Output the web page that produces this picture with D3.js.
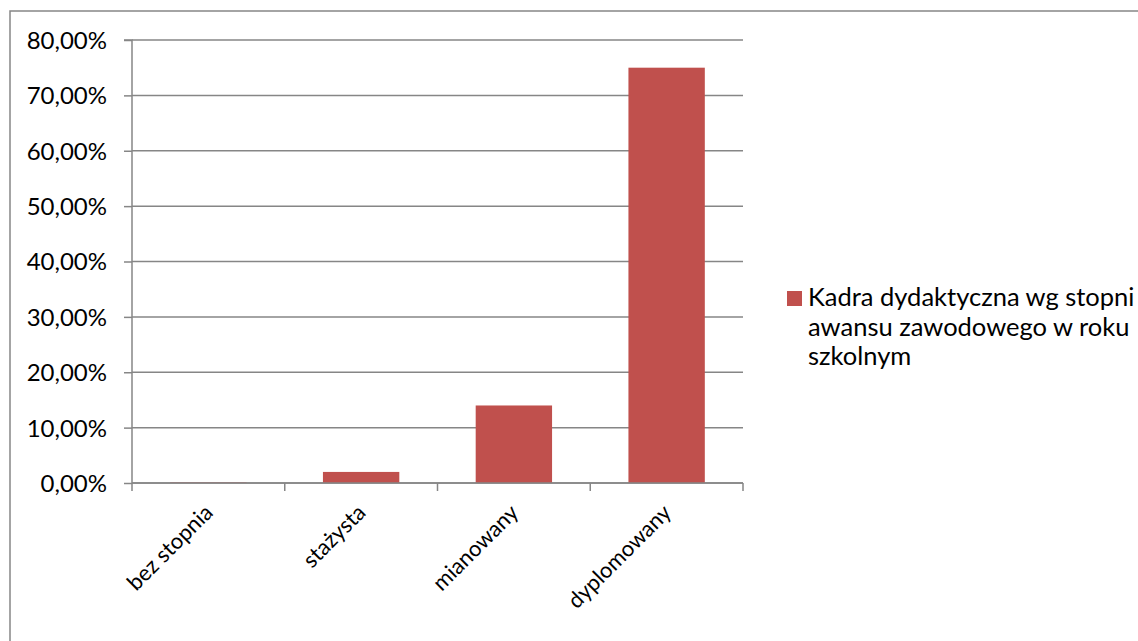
<!DOCTYPE html>
<html><head><meta charset="utf-8">
<script src="https://cdn.jsdelivr.net/npm/d3@7/dist/d3.min.js"></script>
<style>body{margin:0;background:#fff}svg{display:block}text{font-family:Lato,"Open Sans",sans-serif;fill:#000}</style>
</head><body><svg id="c" width="1138" height="641"></svg>
<script>
const categories = ["bez stopnia", "stażysta", "mianowany", "dyplomowany"];
const values = [0.001, 0.02, 0.14, 0.75];
const tickValues = [0, 0.1, 0.2, 0.3, 0.4, 0.5, 0.6, 0.7, 0.8];
const seriesName = ["Kadra dydaktyczna wg stopni", "awansu zawodowego w roku", "szkolnym"];

const svg = d3.select("#c");
const pLeft = 132, pRight = 743, pTop = 40, pBottom = 483;
const grey = "#868686";

svg.append("rect").attr("x", 10).attr("y", 11).attr("width", 1200).attr("height", 700)
  .attr("fill", "#fff").attr("stroke", grey).attr("stroke-width", 1.5);

const x = d3.scaleBand().domain(categories).range([pLeft, pRight]).paddingInner(0.5).paddingOuter(0.25);
const y = d3.scaleLinear().domain([0, 0.8]).range([pBottom, pTop]);
const fmt = v => (v * 100).toFixed(2).replace(".", ",") + "%";

// gridlines
svg.append("g").selectAll("line").data(tickValues).join("line")
  .attr("x1", pLeft).attr("x2", pRight).attr("y1", d => y(d)).attr("y2", d => y(d))
  .attr("stroke", grey).attr("stroke-width", 1.5);

// bars
svg.append("g").selectAll("rect").data(values).join("rect")
  .attr("x", (d, i) => x(categories[i])).attr("width", x.bandwidth())
  .attr("y", d => y(d)).attr("height", d => pBottom - y(d))
  .attr("fill", "#C0504D");

// y axis
const yAxis = d3.axisLeft(y).tickValues(tickValues).tickFormat(fmt).tickSize(8).tickPadding(17);
const gy = svg.append("g").attr("transform", `translate(${pLeft},0)`).call(yAxis);
gy.select(".domain").attr("stroke", grey).attr("stroke-width", 1.5).attr("d", `M-8,${pTop}H0V${pBottom}`);
gy.selectAll(".tick line").attr("stroke", grey).attr("stroke-width", 1.5);
gy.selectAll(".tick text").style("font-size", "24px").attr("fill", "#000").attr("dy", "0.35em");

// x axis ticks (boundaries)
const bounds = d3.range(categories.length + 1).map(i => pLeft + i * (pRight - pLeft) / categories.length);
svg.append("line").attr("x1", pLeft).attr("x2", pRight).attr("y1", pBottom).attr("y2", pBottom)
  .attr("stroke", grey).attr("stroke-width", 1.5);
svg.append("g").selectAll("line").data(bounds).join("line")
  .attr("x1", d => d).attr("x2", d => d).attr("y1", pBottom).attr("y2", pBottom + 8)
  .attr("stroke", grey).attr("stroke-width", 1.5);

// x labels
svg.append("g").selectAll("text").data(categories).join("text")
  .attr("transform", d => `translate(${x(d) + x.bandwidth() / 2 - 5},${pBottom + 20}) rotate(-45)`)
  .attr("text-anchor", "end").attr("dy", "0.7em")
  .style("font-size", "22px").text(d => d);

// legend
svg.append("rect").attr("x", 787).attr("y", 291).attr("width", 15).attr("height", 15).attr("fill", "#C0504D");
svg.append("g").selectAll("text").data(seriesName).join("text")
  .attr("x", 808).attr("y", (d, i) => 306 + i * 29.5)
  .style("font-size", "25.5px").text(d => d);
</script></body></html>
